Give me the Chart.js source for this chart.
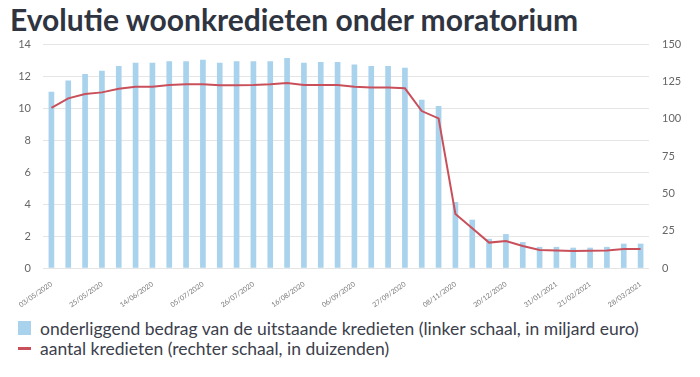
<!DOCTYPE html>
<html>
<head>
<meta charset="utf-8">
<script src="https://cdn.jsdelivr.net/npm/chart.js@4.4.0/dist/chart.umd.min.js"></script>
<style>
  html, body { margin: 0; padding: 0; background: #ffffff; }
  body { width: 700px; height: 377px; position: relative; overflow: hidden; font-family: Lato, "Noto Sans", sans-serif; }
  #title { position: absolute; left: 10px; top: 1px; font-size: 30px; font-weight: 700; color: #2f3441; white-space: nowrap; letter-spacing: 0px; }
  #wrap { position: absolute; left: 0; top: 0; width: 700px; height: 312px; }
  #legend { position: absolute; left: 18px; top: 318px; font-size: 17.5px; color: #3b404c; }
  .row { display: flex; align-items: center; height: 20px; }
  .box { width: 13px; height: 14px; background: #a9d2ec; margin-right: 9px; }
  .dash { width: 13px; height: 3px; background: #c9505b; margin-right: 9px; }
</style>
</head>
<body>
<div id="title">Evolutie woonkredieten onder moratorium</div>
<div id="wrap"><canvas id="c"></canvas></div>
<div id="legend">
  <div class="row"><span class="box"></span><span id="l1"></span></div>
  <div class="row"><span class="dash"></span><span id="l2"></span></div>
</div>
<script>
const dateLabels = ['03/05/2020','','','25/05/2020','','','14/06/2020','','','05/07/2020','','','26/07/2020','','','16/08/2020','','','06/09/2020','','','27/09/2020','','','08/11/2020','','','20/12/2020','','','31/01/2021','','21/02/2021','','','28/03/2021'];
const amountBillion = [11.0,11.7,12.1,12.3,12.6,12.8,12.8,12.9,12.9,13.0,12.8,12.9,12.9,12.9,13.1,12.8,12.85,12.85,12.7,12.6,12.6,12.5,10.5,10.1,4.1,3.0,1.8,2.1,1.6,1.3,1.3,1.25,1.25,1.3,1.5,1.5];
const countThousands = [107.3,113.6,116.5,117.6,120.1,121.4,121.4,122.5,123.0,123.0,122.3,122.3,122.5,123.0,123.9,122.5,122.5,122.5,121.4,120.8,120.8,120.3,105.1,100.2,36.2,26.6,17.0,18.1,14.7,12.1,11.8,11.4,11.6,11.8,12.7,12.7];
const leftTicks = [0,2,4,6,8,10,12,14];
const rightTicks = [0,25,50,75,100,125,150];
const seriesNames = ['onderliggend bedrag van de uitstaande kredieten (linker schaal, in miljard euro)','aantal kredieten (rechter schaal, in duizenden)'];

document.getElementById('l1').textContent = seriesNames[0];
document.getElementById('l2').textContent = seriesNames[1];

const tickFont = { family: 'Lato, "Noto Sans", sans-serif', size: 11 };
new Chart(document.getElementById('c'), {
  data: {
    labels: dateLabels,
    datasets: [
      { type: 'line', label: seriesNames[1], data: countThousands, yAxisID: 'y2', borderColor: '#c9505b', borderWidth: 2, pointRadius: 0, tension: 0, order: 0 },
      { type: 'bar', label: seriesNames[0], data: amountBillion, yAxisID: 'y', backgroundColor: '#a9d2ec', barThickness: 5, order: 1 }
    ]
  },
  options: {
    responsive: true,
    maintainAspectRatio: false,
    animation: false,
    layout: { padding: { top: 44, left: 0, right: 0, bottom: 0 } },
    plugins: { legend: { display: false }, tooltip: { enabled: false } },
    scales: {
      x: {
        grid: { display: false },
        border: { display: false },
        afterFit: s => { s.height = 44; },
        ticks: { autoSkip: false, minRotation: 35, maxRotation: 35, padding: 4, color: '#777', font: { family: 'Lato, "Noto Sans", sans-serif', size: 7 } }
      },
      y: {
        position: 'left', min: 0, max: 14,
        afterBuildTicks: s => { s.ticks = leftTicks.map(v => ({ value: v })); },
        afterFit: s => { s.width = 43; },
        grid: { color: '#e5e5e5', lineWidth: 1, drawTicks: false },
        border: { display: false },
        ticks: { padding: 12, color: '#666', font: tickFont }
      },
      y2: {
        position: 'right', min: 0, max: 150,
        afterBuildTicks: s => { s.ticks = rightTicks.map(v => ({ value: v })); },
        afterFit: s => { s.width = 51; },
        grid: { display: false, drawTicks: false },
        border: { display: false },
        ticks: { padding: 13, color: '#666', font: tickFont }
      }
    }
  }
});
</script>
</body>
</html>
